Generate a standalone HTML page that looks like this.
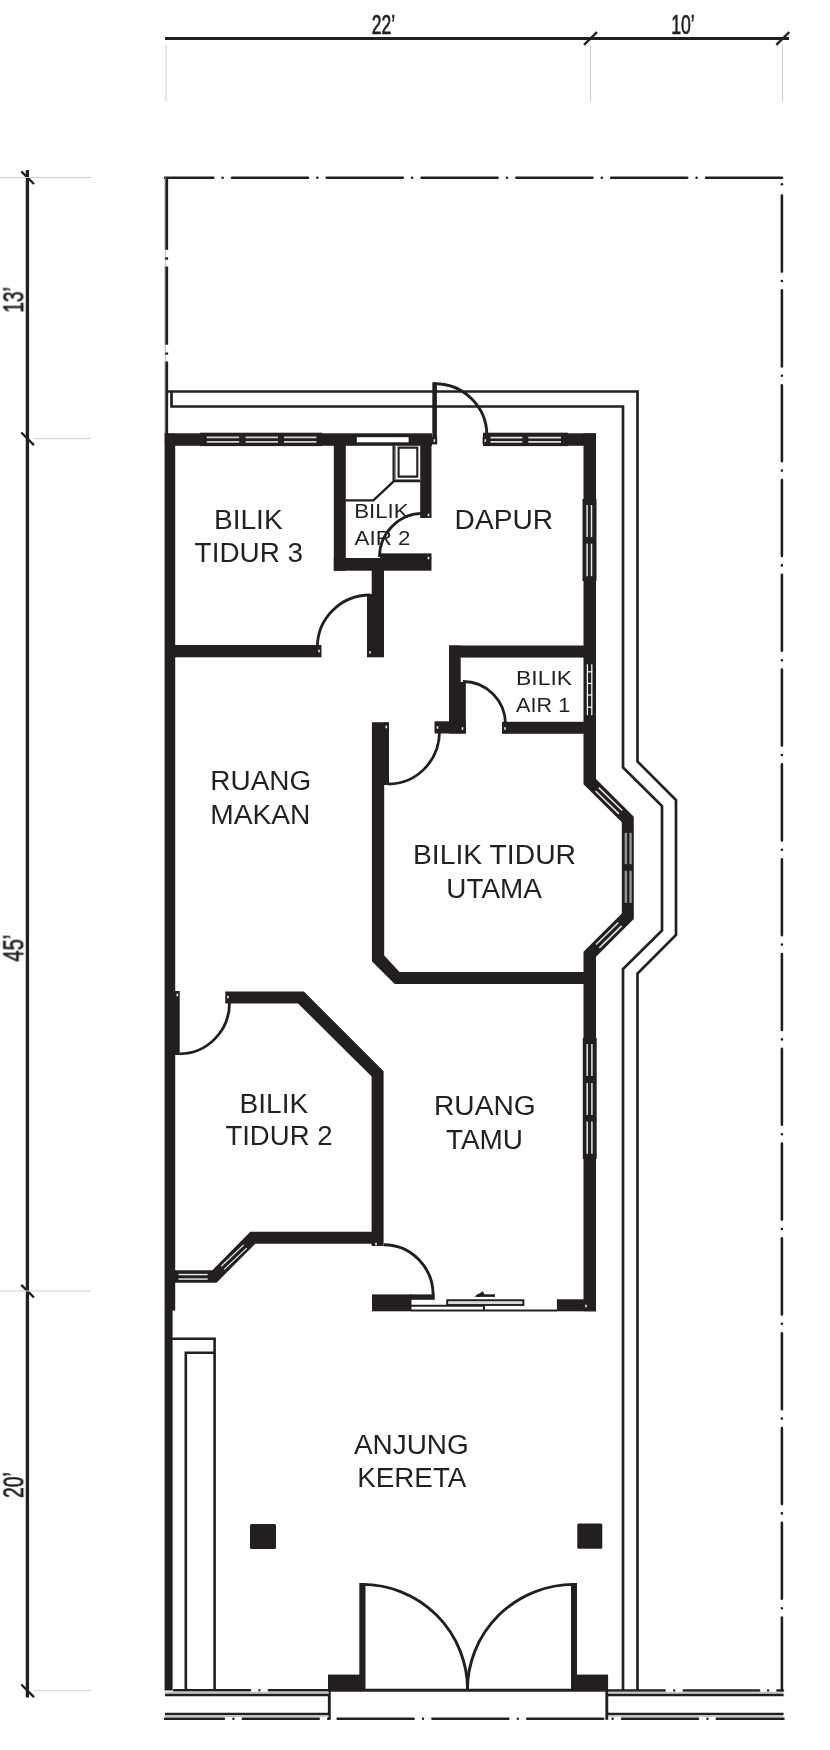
<!DOCTYPE html>
<html><head><meta charset="utf-8"><title>Floor plan</title>
<style>
html,body{margin:0;padding:0;background:#fff;}
body{width:830px;height:1750px;overflow:hidden;font-family:"Liberation Sans",sans-serif;}
svg{display:block;}
</style></head><body>
<svg width="830" height="1750" viewBox="0 0 830 1750">
<rect width="830" height="1750" fill="#fff"/>
<line x1="165" y1="38.5" x2="789" y2="38.5" stroke="#231f20" stroke-width="3" />
<line x1="584.0" y1="44.8" x2="597.0" y2="32.2" stroke="#231f20" stroke-width="2.3" />
<line x1="776.3" y1="44.8" x2="789.3" y2="32.2" stroke="#231f20" stroke-width="2.3" />
<line x1="166" y1="45" x2="166" y2="101" stroke="#cfcfcf" stroke-width="1" />
<line x1="590.5" y1="45" x2="590.5" y2="101" stroke="#cfcfcf" stroke-width="1" />
<line x1="782.5" y1="45" x2="782.5" y2="101" stroke="#cfcfcf" stroke-width="1" />
<line x1="27.4" y1="170" x2="27.4" y2="1697.5" stroke="#231f20" stroke-width="3.3" />
<line x1="21.3" y1="171.3" x2="34" y2="184.0" stroke="#231f20" stroke-width="2.4" />
<line x1="21.3" y1="432.5" x2="34" y2="445.2" stroke="#231f20" stroke-width="2.4" />
<line x1="21.3" y1="1284.8" x2="34" y2="1297.5" stroke="#231f20" stroke-width="2.4" />
<line x1="21.3" y1="1684.5" x2="34" y2="1697.2" stroke="#231f20" stroke-width="2.4" />
<line x1="0" y1="177.5" x2="91" y2="177.5" stroke="#cfcfcf" stroke-width="1" />
<line x1="34" y1="438.7" x2="91" y2="438.7" stroke="#cfcfcf" stroke-width="1" />
<line x1="0" y1="1291" x2="91" y2="1291" stroke="#cfcfcf" stroke-width="1" />
<line x1="34" y1="1690.7" x2="91" y2="1690.7" stroke="#cfcfcf" stroke-width="1" />
<line x1="165" y1="177.8" x2="783" y2="177.8" stroke="#231f20" stroke-width="2.6" stroke-linecap="round" stroke-dasharray="76 9.4 0.01 9.39" stroke-dashoffset="27.8"/>
<line x1="781.9" y1="195.6" x2="781.9" y2="1690.5" stroke="#231f20" stroke-width="2.6" stroke-linecap="round" stroke-dasharray="76 9.4 0.01 9.39"/>
<line x1="781.9" y1="184.3" x2="781.9" y2="184.31" stroke="#231f20" stroke-width="2.6" stroke-linecap="round"/>
<line x1="166.5" y1="177" x2="166.5" y2="434" stroke="#231f20" stroke-width="3.3" stroke-dasharray="78.4 7.6 2.4 6.7" stroke-dashoffset="5.7"/>
<line x1="165.3" y1="177" x2="165.3" y2="434" stroke="#999" stroke-width="0.7" />
<line x1="165" y1="1718.8" x2="783.5" y2="1718.8" stroke="#231f20" stroke-width="2.5" stroke-linecap="round" stroke-dasharray="76 9.4 0.01 9.39" stroke-dashoffset="17"/>
<path d="M167,391.5 H637.5 V761.5 L676,800 V935 L637.5,973.5 V1690" stroke="#231f20" stroke-width="2.7" fill="none" />
<path d="M171.5,391.5 V406.5 H623 V767.5 L662,806 V930.5 L623,969 V1690" stroke="#231f20" stroke-width="2.7" fill="none" />
<rect x="164.6" y="433.5" width="10.6" height="877.1" fill="#231f20" />
<rect x="164.6" y="1310" width="8.0" height="380.5" fill="#231f20" />
<rect x="164.8" y="433.3" width="267.2" height="12.5" fill="#231f20" />
<rect x="483" y="433.3" width="113" height="12.5" fill="#231f20" />
<polygon points="596,433.3 596,779 633.8,816.8 633.8,919 596,956.8 596,1311.3 583.5,1311.3 583.5,951.8 621.8,913.5 621.8,822.2 583.5,784.2 583.5,433.3" fill="#231f20"/>
<rect x="175" y="645" width="146.5" height="12.3" fill="#231f20" />
<rect x="333.8" y="445" width="12.0" height="125.7" fill="#231f20" />
<rect x="333.8" y="558" width="97.7" height="12.7" fill="#231f20" />
<rect x="380" y="553.4" width="51.5" height="5.1" fill="#231f20" />
<rect x="420.2" y="445" width="11.3" height="73" fill="#231f20" />
<rect x="371.7" y="570" width="12.3" height="87.3" fill="#231f20" />
<rect x="367" y="594" width="5" height="63.3" fill="#231f20" />
<rect x="449" y="645.5" width="135" height="12.1" fill="#231f20" />
<rect x="449" y="645.5" width="11.7" height="88.0" fill="#231f20" />
<rect x="459" y="682" width="6.8" height="51.5" fill="#231f20" />
<rect x="434.5" y="721.3" width="31.3" height="12.2" fill="#231f20" />
<rect x="502" y="721.8" width="82" height="12.0" fill="#231f20" />
<polygon points="371.9,722.3 388,722.3 388,728 384.2,728 384.2,955.5 399.5,972 584,972 584,984 394.7,984 371.9,961.3" fill="#231f20"/>
<polygon points="225.3,991.6 303.9,991.6 383.6,1071.2 383.6,1246 371.6,1246 371.6,1243.8 255.3,1243.8 216.5,1282.7 175,1282.7 175,1270.3 212.3,1270.3 250.3,1231.8 371.6,1231.8 371.6,1076.4 298,1003.4 225.3,1003.4" fill="#231f20"/>
<rect x="175" y="991" width="4.7" height="64" fill="#231f20" />
<rect x="372" y="1294.4" width="39.5" height="16.9" fill="#231f20" />
<rect x="556.9" y="1299.3" width="39.1" height="12.0" fill="#231f20" />
<rect x="250" y="1524" width="26" height="25" fill="#231f20" rx="1.5"/>
<rect x="577.3" y="1523.5" width="25.0" height="25.3" fill="#231f20" rx="1.5"/>
<rect x="328" y="1674.6" width="33" height="16.4" fill="#231f20" />
<rect x="575" y="1674.6" width="33.1" height="16.4" fill="#231f20" />
<rect x="200" y="432.7" width="122" height="13.4" fill="#231f20" />
<line x1="206.8" y1="437.4" x2="239.2" y2="437.4" stroke="#d4d4d4" stroke-width="1.7" />
<line x1="206.8" y1="441.9" x2="239.2" y2="441.9" stroke="#d4d4d4" stroke-width="1.7" />
<line x1="245.6" y1="437.4" x2="278" y2="437.4" stroke="#d4d4d4" stroke-width="1.7" />
<line x1="245.6" y1="441.9" x2="278" y2="441.9" stroke="#d4d4d4" stroke-width="1.7" />
<line x1="284" y1="437.4" x2="316.4" y2="437.4" stroke="#d4d4d4" stroke-width="1.7" />
<line x1="284" y1="441.9" x2="316.4" y2="441.9" stroke="#d4d4d4" stroke-width="1.7" />
<rect x="356.8" y="437.2" width="51.8" height="5.1" fill="#ffffff" />
<rect x="483" y="432.7" width="85" height="13.4" fill="#231f20" />
<line x1="490.5" y1="437.7" x2="522.3" y2="437.7" stroke="#e0e0e0" stroke-width="1.8" />
<line x1="490.5" y1="441.90000000000003" x2="522.3" y2="441.90000000000003" stroke="#e0e0e0" stroke-width="1.8" />
<line x1="528.3" y1="437.7" x2="561" y2="437.7" stroke="#e0e0e0" stroke-width="1.8" />
<line x1="528.3" y1="441.90000000000003" x2="561" y2="441.90000000000003" stroke="#e0e0e0" stroke-width="1.8" />
<rect x="582.5" y="499" width="14.0" height="82" fill="#231f20" />
<line x1="587.0999999999999" y1="505" x2="587.0999999999999" y2="537.1" stroke="#e6e6e6" stroke-width="1.5" />
<line x1="591.5" y1="505" x2="591.5" y2="537.1" stroke="#e6e6e6" stroke-width="1.5" />
<line x1="587.0999999999999" y1="543.6" x2="587.0999999999999" y2="576.2" stroke="#e6e6e6" stroke-width="1.5" />
<line x1="591.5" y1="543.6" x2="591.5" y2="576.2" stroke="#e6e6e6" stroke-width="1.5" />
<line x1="587.4" y1="664.2" x2="587.4" y2="715.2" stroke="#ffffff" stroke-width="1.2" />
<line x1="591.8000000000001" y1="664.2" x2="591.8000000000001" y2="715.2" stroke="#ffffff" stroke-width="1.2" />
<line x1="587" y1="671.8" x2="592.2" y2="671.8" stroke="#ffffff" stroke-width="1.2" />
<line x1="587" y1="683.4" x2="592.2" y2="683.4" stroke="#ffffff" stroke-width="1.2" />
<line x1="587" y1="695" x2="592.2" y2="695" stroke="#ffffff" stroke-width="1.2" />
<line x1="587" y1="707.2" x2="592.2" y2="707.2" stroke="#ffffff" stroke-width="1.2" />
<line x1="625.85" y1="832.8" x2="625.85" y2="864.2" stroke="#929292" stroke-width="2.4" />
<line x1="630.5500000000001" y1="832.8" x2="630.5500000000001" y2="864.2" stroke="#929292" stroke-width="2.4" />
<line x1="625.85" y1="870.7" x2="625.85" y2="902.9" stroke="#929292" stroke-width="2.4" />
<line x1="630.5500000000001" y1="870.7" x2="630.5500000000001" y2="902.9" stroke="#929292" stroke-width="2.4" />
<rect x="582.8" y="1038" width="13.9" height="121" fill="#231f20" />
<line x1="587.1999999999999" y1="1044" x2="587.1999999999999" y2="1076.1" stroke="#e6e6e6" stroke-width="1.5" />
<line x1="591.9" y1="1044" x2="591.9" y2="1076.1" stroke="#e6e6e6" stroke-width="1.5" />
<line x1="587.1999999999999" y1="1083" x2="587.1999999999999" y2="1115.1" stroke="#e6e6e6" stroke-width="1.5" />
<line x1="591.9" y1="1083" x2="591.9" y2="1115.1" stroke="#e6e6e6" stroke-width="1.5" />
<line x1="587.1999999999999" y1="1121.5" x2="587.1999999999999" y2="1153.7" stroke="#e6e6e6" stroke-width="1.5" />
<line x1="591.9" y1="1121.5" x2="591.9" y2="1153.7" stroke="#e6e6e6" stroke-width="1.5" />
<line x1="178.5" y1="1274.55" x2="207.7" y2="1274.55" stroke="#e6e6e6" stroke-width="1.5" />
<line x1="178.5" y1="1279.05" x2="207.7" y2="1279.05" stroke="#e6e6e6" stroke-width="1.5" />
<line x1="221.19" y1="1266.2" x2="243.69" y2="1244.9" stroke="#e6e6e6" stroke-width="1.3" />
<line x1="224.21" y1="1269.4" x2="246.71" y2="1248.1" stroke="#e6e6e6" stroke-width="1.3" />
<line x1="598.84" y1="787.62" x2="622.24" y2="810.52" stroke="#e6e6e6" stroke-width="1.5" />
<line x1="595.56" y1="790.98" x2="618.96" y2="813.88" stroke="#e6e6e6" stroke-width="1.5" />
<line x1="596.05" y1="944.53" x2="618.35" y2="922.53" stroke="#e6e6e6" stroke-width="1.5" />
<line x1="599.35" y1="947.87" x2="621.65" y2="925.87" stroke="#e6e6e6" stroke-width="1.5" />
<path d="M395.3,445.5 V479.6 H420.5" stroke="#8a8a8a" stroke-width="1.4" fill="none" />
<path d="M393.6,445.5 V481.2 H420.5" stroke="#231f20" stroke-width="2.2" fill="none" />
<path d="M398.6,447.6 H417.3 V476.6 H398.6 Z" stroke="#231f20" stroke-width="2.1" fill="none" />
<path d="M345.5,500.4 H373.4 L393.4,481.6" stroke="#231f20" stroke-width="2.4" fill="none" />
<rect x="431.5" y="436.8" width="5.7" height="7.6" fill="#231f20" />
<rect x="433.55" y="439.20000000000005" width="1.6" height="2.8" fill="#d8d8d8"/>
<rect x="482.6" y="436.8" width="5.4" height="7.6" fill="#231f20" />
<rect x="484.5" y="439.20000000000005" width="1.6" height="2.8" fill="#d8d8d8"/>
<path d="M433,383.7 H435 A51.8,51.3 0 0 1 486.8,435" stroke="#231f20" stroke-width="2.9" fill="none" />
<line x1="434.6" y1="382.4" x2="434.6" y2="437" stroke="#231f20" stroke-width="4.6" />
<path d="M423,513.4 A43.5,43.5 0 0 0 379.5,556.9" stroke="#231f20" stroke-width="2.8" fill="none" />
<path d="M370,595 A52.6,52 0 0 0 317.4,647" stroke="#231f20" stroke-width="2.8" fill="none" />
<path d="M463,681.5 A42.5,42.5 0 0 1 505.5,724" stroke="#231f20" stroke-width="2.8" fill="none" />
<path d="M439.5,731.5 A51,52.5 0 0 1 388.5,784" stroke="#231f20" stroke-width="2.8" fill="none" />
<rect x="384" y="722.3" width="5" height="62.7" fill="#231f20" />
<path d="M179.5,1053.8 A50,51 0 0 0 229.5,1002.8" stroke="#231f20" stroke-width="2.8" fill="none" />
<path d="M383.9,1244.8 A49.3,50.5 0 0 1 433.2,1295.3" stroke="#231f20" stroke-width="2.9" fill="none" />
<rect x="410" y="1294.4" width="24.7" height="5.4" fill="#231f20" />
<path d="M411,1305.8 H484 V1311" stroke="#231f20" stroke-width="2.1" fill="none" />
<line x1="411" y1="1310.5" x2="557" y2="1310.5" stroke="#231f20" stroke-width="2.2" />
<rect x="447.2" y="1300.2" width="76.2" height="4.8" fill="#d8d8d8" stroke="#231f20" stroke-width="1.9"/>
<line x1="477" y1="1295.6" x2="495" y2="1295.6" stroke="#231f20" stroke-width="2.6" />
<polygon points="474.3,1296.6 483,1291.3 484.5,1294.6 478,1296.9" fill="#231f20"/>
<path d="M172,1338.8 H214.6 V1690" stroke="#231f20" stroke-width="2.6" fill="none" />
<path d="M185.8,1690 V1352.8 H214.6" stroke="#231f20" stroke-width="2.6" fill="none" />
<line x1="362.4" y1="1583" x2="362.4" y2="1690" stroke="#231f20" stroke-width="6.2" />
<path d="M362.4,1584.4 A105.2,105.6 0 0 1 467.6,1690" stroke="#231f20" stroke-width="2.9" fill="none" />
<line x1="574" y1="1583" x2="574" y2="1690" stroke="#231f20" stroke-width="6" />
<path d="M574,1584.4 A106.6,105.6 0 0 0 467.4,1690" stroke="#231f20" stroke-width="2.9" fill="none" />
<line x1="165" y1="1690.2" x2="328" y2="1690.2" stroke="#231f20" stroke-width="2.4" stroke-linecap="round" stroke-dasharray="76 9.4 0.01 9.39" stroke-dashoffset="-9"/>
<line x1="329" y1="1690.2" x2="608" y2="1690.2" stroke="#231f20" stroke-width="2.9" />
<line x1="608" y1="1690.4" x2="783" y2="1690.4" stroke="#231f20" stroke-width="2.5" stroke-linecap="round" stroke-dasharray="56.7 9.4 0.01 9.6 75.4 9 0.01 9.2 10"/>
<line x1="165" y1="1694.9" x2="329" y2="1694.9" stroke="#231f20" stroke-width="2.6" />
<line x1="165" y1="1714" x2="329" y2="1714" stroke="#231f20" stroke-width="2.4" />
<line x1="329.3" y1="1690" x2="329.3" y2="1719.8" stroke="#231f20" stroke-width="2.9" />
<line x1="606.8" y1="1690" x2="606.8" y2="1719.8" stroke="#231f20" stroke-width="2.9" />
<line x1="607" y1="1694.9" x2="783.6" y2="1694.9" stroke="#231f20" stroke-width="2.6" />
<line x1="607" y1="1714" x2="783.6" y2="1714" stroke="#231f20" stroke-width="2.4" />
<rect x="385.5" y="725.7" width="1.6" height="2.6" fill="#e8e8e8"/>
<rect x="436.7" y="726.2" width="1.6" height="2.6" fill="#e8e8e8"/>
<rect x="461.7" y="727.2" width="1.6" height="2.6" fill="#e8e8e8"/>
<rect x="504.2" y="727.2" width="1.6" height="2.6" fill="#e8e8e8"/>
<rect x="318.2" y="649.7" width="1.6" height="2.6" fill="#e8e8e8"/>
<rect x="369.2" y="651.0" width="1.6" height="2.6" fill="#e8e8e8"/>
<rect x="427.7" y="513.7" width="1.6" height="2.6" fill="#e8e8e8"/>
<rect x="427.7" y="556.7" width="1.6" height="2.6" fill="#e8e8e8"/>
<rect x="176.5" y="993.7" width="1.6" height="2.6" fill="#e8e8e8"/>
<rect x="227.2" y="995.7" width="1.6" height="2.6" fill="#e8e8e8"/>
<rect x="375.2" y="1242.7" width="1.6" height="2.6" fill="#e8e8e8"/>
<rect x="585.2" y="1304.7" width="1.6" height="2.6" fill="#e8e8e8"/>
<line x1="165" y1="1692.6" x2="329" y2="1692.6" stroke="#c4c4c4" stroke-width="1.6" />
<line x1="165" y1="1716.4" x2="329" y2="1716.4" stroke="#c4c4c4" stroke-width="1.2" />
<line x1="608" y1="1692.6" x2="783" y2="1692.6" stroke="#c4c4c4" stroke-width="1.6" />
<line x1="608" y1="1716.4" x2="783" y2="1716.4" stroke="#c4c4c4" stroke-width="1.2" />
<g font-family="Liberation Sans, sans-serif" fill="#231f20" opacity="0.995">
<text x="214" y="529" font-size="26.8" textLength="68.6" lengthAdjust="spacingAndGlyphs" >BILIK</text>
<text x="194.60000000000002" y="562" font-size="26.8" textLength="108.5" lengthAdjust="spacingAndGlyphs" >TIDUR 3</text>
<text x="454.6" y="529" font-size="26.8" textLength="98.4" lengthAdjust="spacingAndGlyphs" >DAPUR</text>
<text x="210.3" y="790.2" font-size="26.8" textLength="100.9" lengthAdjust="spacingAndGlyphs" >RUANG</text>
<text x="210.3" y="823.6" font-size="26.8" textLength="100.1" lengthAdjust="spacingAndGlyphs" >MAKAN</text>
<text x="413" y="864.2" font-size="26.8" textLength="163" lengthAdjust="spacingAndGlyphs" >BILIK TIDUR</text>
<text x="446.3" y="898.4" font-size="26.8" textLength="95.5" lengthAdjust="spacingAndGlyphs" >UTAMA</text>
<text x="239.5" y="1112.6" font-size="26.8" textLength="68.7" lengthAdjust="spacingAndGlyphs" >BILIK</text>
<text x="225.4" y="1145.4" font-size="26.8" textLength="107.1" lengthAdjust="spacingAndGlyphs" >TIDUR 2</text>
<text x="434" y="1114.7" font-size="26.8" textLength="101.6" lengthAdjust="spacingAndGlyphs" >RUANG</text>
<text x="445.9" y="1148.6" font-size="26.8" textLength="77.1" lengthAdjust="spacingAndGlyphs" >TAMU</text>
<text x="353.9" y="1453.8" font-size="26.8" textLength="114.9" lengthAdjust="spacingAndGlyphs" >ANJUNG</text>
<text x="357.3" y="1487.3" font-size="26.8" textLength="109.0" lengthAdjust="spacingAndGlyphs" >KERETA</text>
<text x="354.2" y="518.2" font-size="19.8" textLength="54.3" lengthAdjust="spacingAndGlyphs" >BILIK</text>
<text x="354.5" y="544.8" font-size="19.8" textLength="56.0" lengthAdjust="spacingAndGlyphs" >AIR 2</text>
<text x="516.1" y="685.4" font-size="19.8" textLength="56.0" lengthAdjust="spacingAndGlyphs" >BILIK</text>
<text x="516.1" y="712.4" font-size="19.8" textLength="54.1" lengthAdjust="spacingAndGlyphs" >AIR 1</text>
<text x="371.8" y="34.3" font-size="27.5" textLength="23.4" lengthAdjust="spacingAndGlyphs" stroke="#231f20" stroke-width="0.7">22&#8217;</text>
<text x="671.2" y="34.1" font-size="27.5" textLength="23.6" lengthAdjust="spacingAndGlyphs" stroke="#231f20" stroke-width="0.7">10&#8217;</text>
<text transform="translate(23.3,312.6) rotate(-90)" font-size="29.5" textLength="25.4" lengthAdjust="spacingAndGlyphs" stroke="#231f20" stroke-width="0.7">13&#8217;</text>
<text transform="translate(23.3,961.6) rotate(-90)" font-size="29.5" textLength="27.0" lengthAdjust="spacingAndGlyphs" stroke="#231f20" stroke-width="0.7">45&#8217;</text>
<text transform="translate(23.3,1498) rotate(-90)" font-size="29.5" textLength="25.8" lengthAdjust="spacingAndGlyphs" stroke="#231f20" stroke-width="0.7">20&#8217;</text>
</g>
</svg>
</body></html>
